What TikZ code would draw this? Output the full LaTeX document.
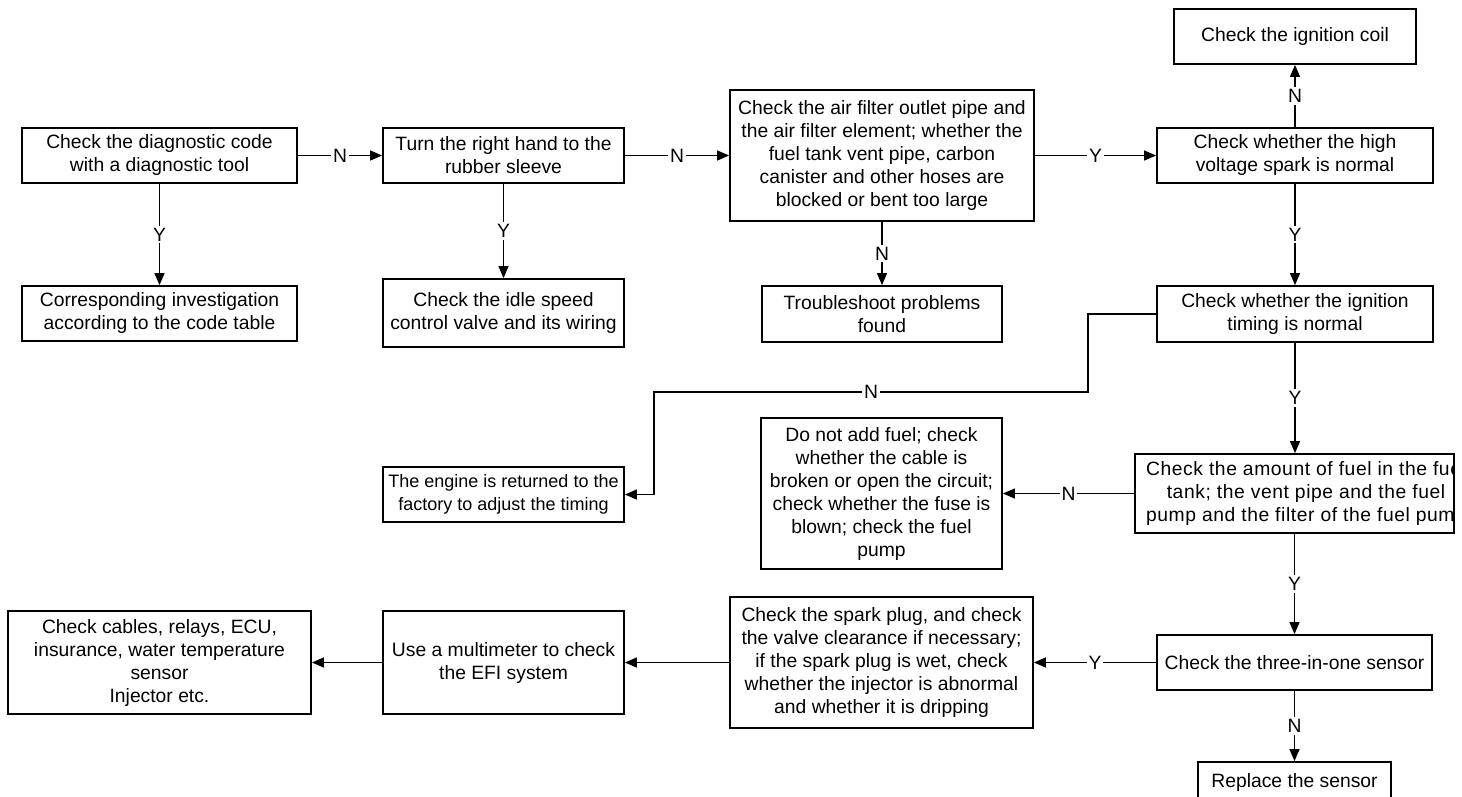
\documentclass[tikz,border=0pt]{standalone}
\usepackage{fontspec}
\setmainfont{Liberation Sans}
\usetikzlibrary{arrows.meta}

\tikzset{
  box/.style={draw, line width=1.8pt, align=center, inner sep=4pt,
    font=\fontsize{19.3}{23}\selectfont},
  flow/.style={line width=1.3pt, -{Triangle[length=12pt,width=10pt]}},
  lbl/.style={fill=white, inner sep=2pt, font=\fontsize{19.3}{23}\selectfont}
}

\begin{document}
\begin{tikzpicture}[x=1pt,y=-1pt]
    \useasboundingbox (0,0) rectangle (1462,796);

    % First row
    \node[box, minimum width=275pt, minimum height=55pt] (diag) at (159.5,155.5)
        {Check the diagnostic code\\with a diagnostic tool};
    \node[box, minimum width=241pt, minimum height=55pt] (turn) at (503.5,155.5)
        {Turn the right hand to the\\rubber sleeve};
    \node[box, minimum width=304pt, minimum height=131pt] (air) at (882,155.5)
        {Check the air filter outlet pipe and\\the air filter element; whether the\\fuel tank vent pipe, carbon\\canister and other hoses are\\blocked or bent too large};
    \node[box, minimum width=276pt, minimum height=55pt] (spark) at (1295,155.5)
        {Check whether the high\\voltage spark is normal};
    \node[box, minimum width=242pt, minimum height=55pt] (coil) at (1295,36.5)
        {Check the ignition coil};

    % Second row
    \node[box, minimum width=275pt, minimum height=55pt] (corr) at (159.5,313.5)
        {Corresponding investigation\\according to the code table};
    \node[box, minimum width=241pt, minimum height=68pt] (idle) at (503.5,313)
        {Check the idle speed\\control valve and its wiring};
    \node[box, minimum width=240pt, minimum height=56pt] (trouble) at (882,314)
        {Troubleshoot problems\\found};
    \node[box, minimum width=276pt, minimum height=56pt] (timing) at (1295,314)
        {Check whether the ignition\\timing is normal};

    % Third row
    \node[box, minimum width=241pt, minimum height=55pt, font=\fontsize{18}{23}\selectfont]
        (engine) at (503.5,494.5)
        {The engine is returned to the\\factory to adjust the timing};
    \node[box, minimum width=241pt, minimum height=151pt] (nofuel) at (881.5,493.5)
        {Do not add fuel; check\\whether the cable is\\broken or open the circuit;\\check whether the fuse is\\blown; check the fuel\\pump};
    \node[box, minimum width=319pt, minimum height=79pt] (fuel) at (1294.5,493.5) {};
    \begin{scope}
        \clip (fuel.south west) rectangle (fuel.north east);
        \node[align=center, font=\fontsize{19.3}{23}\selectfont\addfontfeature{LetterSpace=3}]
            (fueltext) at (1306,493.5)
            {Check the amount of fuel in the fuel\\tank; the vent pipe and the fuel\\pump and the filter of the fuel pump};
    \end{scope}

    % Fourth row
    \node[box, minimum width=303pt, minimum height=103pt] (cables) at (159.5,662.5)
        {Check cables, relays, ECU,\\insurance, water temperature\\sensor\\Injector etc.};
    \node[box, minimum width=241pt, minimum height=103pt] (multi) at (503.5,662.5)
        {Use a multimeter to check\\the EFI system};
    \node[box, minimum width=303pt, minimum height=131pt] (plug) at (881.5,662.5)
        {Check the spark plug, and check\\the valve clearance if necessary;\\if the spark plug is wet, check\\whether the injector is abnormal\\and whether it is dripping};
    \node[box, minimum width=275pt, minimum height=55pt] (sensor) at (1294.5,662.5)
        {Check the three-in-one sensor};
    \node[box, minimum width=193pt, minimum height=40pt] (replace) at (1294.5,782)
        {Replace the sensor};

    % Connectors
    \draw[flow] (diag) -- node[lbl] {N} (turn);
    \draw[flow] (turn) -- node[lbl] {N} (air);
    \draw[flow] (air) -- node[lbl] {Y} (spark);
    \draw[flow] (spark) -- node[lbl] {N} (coil);
    \draw[flow] (diag) -- node[lbl] {Y} (corr);
    \draw[flow] (turn) -- node[lbl] {Y} (idle);
    \draw[flow] (air) -- node[lbl] {N} (trouble);
    \draw[flow] (spark) -- node[lbl] {Y} (timing);
    \draw[flow] (timing.south) -- node[lbl] {Y} (timing.south |- fuel.north);
    \draw[flow] (fuel) -- node[lbl] {N} (nofuel);
    \draw[flow] (fuel.south) -- node[lbl] {Y} (fuel.south |- sensor.north);
    \draw[flow] (sensor) -- node[lbl] {Y} (plug);
    \draw[flow] (sensor) -- node[lbl] {N} (replace);
    \draw[flow] (plug) -- (multi);
    \draw[flow] (multi) -- (cables);

    % Timing not normal: back to the factory
    \coordinate (bendA) at (1088,392);
    \coordinate (bendB) at (654,392);
    \draw[flow] (timing.west) -| (bendA) -- node[lbl] {N} (bendB) |- (engine.east);
\end{tikzpicture}
\end{document}
